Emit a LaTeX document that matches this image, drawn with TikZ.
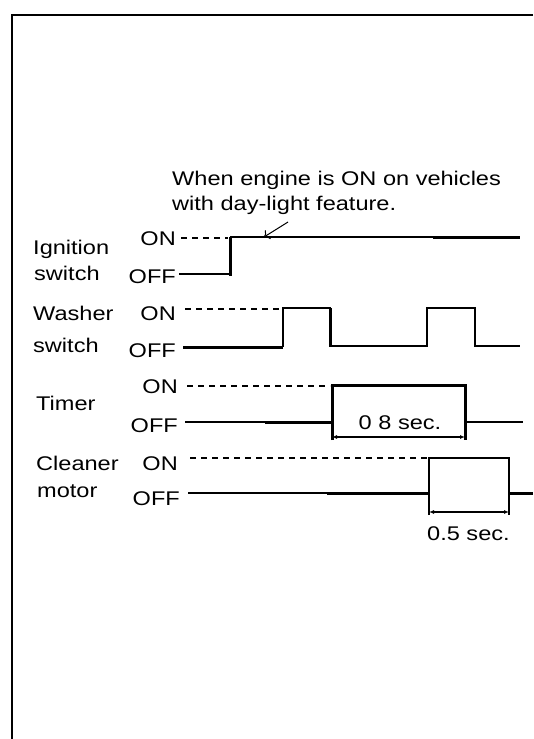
\documentclass[tikz,border=0pt]{standalone}
\usepackage{fontspec}
\setmainfont{Liberation Sans}[FakeStretch=1.19]
\usetikzlibrary{arrows.meta}
\begin{document}
\begin{tikzpicture}[x=1pt,y=-1pt,
  txt/.style={inner sep=0pt,font=\fontsize{19.8}{26}\selectfont},
  lbl/.style={txt,anchor=base west},
  lvl/.style={txt,anchor=base east},
  sig/.style={line width=1.3pt},
  sigbold/.style={line width=3pt},
  dashline/.style={line width=1.3pt,dash pattern=on 6pt off 5pt},
  dimline/.style={line width=1.3pt,{Latex[length=5pt,width=4pt]}-{Latex[length=5pt,width=4pt]}},
  frame/.style={line width=2pt}]
\useasboundingbox (0,0) rectangle (533,739);
% frame
\coordinate (ftr) at (533,15);
\coordinate (ftl) at (12,15);
\coordinate (fbl) at (12,739);
\draw[frame] (ftr) -- (ftl) -- (fbl);
% annotation
\node[lbl] (note1) at (172,185) {When engine is ON on vehicles};
\node[lbl] (note2) at (172,210) {with day-light feature.};
\coordinate (arrtip) at (264,237);
\coordinate (arrtail) at (288,222);
\draw[line width=1pt,-{To[length=5pt]}] (arrtail) -- (arrtip);
% labels
\node[lbl] (ign1) at (33,254) {Ignition};
\node[lbl] (ign2) at (34,280) {switch};
\node[lbl] (was1) at (33,320) {Washer};
\node[lbl] (was2) at (33,352) {switch};
\node[lbl] (tim) at (36,410) {Timer};
\node[lbl] (cle1) at (36,470) {Cleaner};
\node[lbl] (cle2) at (37,497) {motor};
\node[lvl] (ignon) at (176,245) {ON};
\node[lvl] (ignoff) at (176,283) {OFF};
\node[lvl] (wason) at (176,320) {ON};
\node[lvl] (wasoff) at (176,357) {OFF};
\node[lvl] (timon) at (178,393) {ON};
\node[lvl] (timoff) at (178,432) {OFF};
\node[lvl] (cleon) at (178,470) {ON};
\node[lvl] (cleoff) at (180,505) {OFF};
% ignition switch
\draw[dashline] (181,238) -- (228,238);
\draw[sig] (179,274) -- (230,274);
\draw[sigbold] (230,275.5) -- (230,237);
\draw[sig] (230,237) -- (433,237);
\draw[sigbold] (433,237) -- (520,237);
% washer switch
\draw[dashline] (185,309) -- (281,309);
\draw[sigbold] (183,347) -- (283,347);
\draw[sig] (283,347) -- (283,308) -- (330,308) -- (330,346) -- (427,346) -- (427,308) -- (475,308) -- (475,346) -- (520,346);
\draw[sigbold] (330,308) -- (330,345);
% timer
\draw[dashline] (187,386) -- (330,386);
\draw[sig] (185,422) -- (265,422);
\draw[sigbold] (265,422) -- (332,422);
\draw[sigbold] (332,440) -- (332,385) -- (465,385) -- (465,440);
\draw[sig] (465,422) -- (523,422);
\draw[dimline] (332,437) -- (465,437);
\node[txt] (t08) at (400,423) {0 8 sec.};
% cleaner motor
\draw[dashline] (190,458) -- (427,458);
\draw[sig] (188,493) -- (327,493);
\draw[sigbold] (327,493) -- (429,493);
\draw[sig] (429,515) -- (429,458) -- (509,458) -- (509,515);
\draw[sigbold] (509,493) -- (533,493);
\draw[dimline] (429,512) -- (509,512);
\node[lbl] (t05) at (427,540) {0.5 sec.};
\end{tikzpicture}
\end{document}
